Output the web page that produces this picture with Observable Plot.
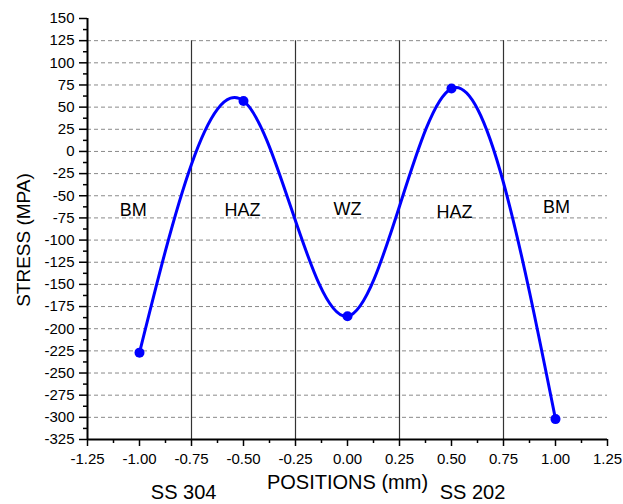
<!DOCTYPE html>
<html>
<head>
<meta charset="utf-8">
<script src="https://cdn.jsdelivr.net/npm/d3@7"></script>
<script src="https://cdn.jsdelivr.net/npm/@observablehq/plot@0.6"></script>
<style>
  html, body { margin: 0; padding: 0; background: #fff; }
</style>
</head>
<body>
<div id="chart"></div>
<script>
// ---- data ----
const positions = [-1.0, -0.5, 0.0, 0.5, 1.0];
const stress = [-227, 57, -186, 71, -302];

const zoneBoundaries = [-0.75, -0.25, 0.25, 0.75];
const zoneNames = ["BM", "HAZ", "WZ", "HAZ", "BM"];
const zoneX = [-1.03, -0.505, 0.0, 0.515, 1.005];
const zoneY = [-66, -66, -65, -69, -63];

const xTicks = [-1.25, -1.0, -0.75, -0.5, -0.25, 0, 0.25, 0.5, 0.75, 1.0, 1.25];
const xMinorTicks = [-1.125, -0.875, -0.625, -0.375, -0.125, 0.125, 0.375, 0.625, 0.875, 1.125];
const yTicks = [150, 125, 100, 75, 50, 25, 0, -25, -50, -75, -100, -125, -150, -175, -200, -225, -250, -275, -300, -325];
const yMinorTicks = [137.5, 112.5, 87.5, 62.5, 37.5, 12.5, -12.5, -37.5, -62.5, -87.5, -112.5, -137.5, -162.5, -187.5, -212.5, -237.5, -262.5, -287.5, -312.5];
const gridValues = [125, 100, 75, 50, 25, 0, -25, -50, -75, -100, -125, -150, -175, -200, -225, -250, -275, -300];

const materialLabels = ["SS 304", "SS 202"];
const materialX = [-0.788, 0.601];
const xTitle = "POSITIONS (mm)";
const yTitle = "STRESS (MPA)";

const points = positions.map((x, i) => ({x, y: stress[i]}));
const zones = zoneNames.map((name, i) => ({name, x: zoneX[i], y: zoneY[i]}));
const materials = materialLabels.map((name, i) => ({name, x: materialX[i]}));

const chart = Plot.plot({
  width: 623,
  height: 504,
  marginLeft: 87,
  marginRight: 16,
  marginTop: 18,
  marginBottom: 65,
  style: {fontFamily: "'Liberation Sans', Arial, sans-serif", fontSize: "15px", color: "black", background: "white"},
  x: {domain: [-1.25, 1.25]},
  y: {domain: [-325, 150]},
  marks: [
    Plot.ruleY(gridValues, {stroke: "#8a8a8a", strokeWidth: 1, strokeDasharray: "4,3"}),
    Plot.ruleX(zoneBoundaries, {y1: -325, y2: 125, stroke: "#333", strokeWidth: 1.2}),
    Plot.axisY(yTicks, {tickSize: 8, tickPadding: 5, tickFormat: d => String(d), label: null, strokeWidth: 1.5, fontSize: 15}),
    Plot.axisY(yMinorTicks, {tickSize: 4, tickFormat: () => "", label: null, strokeWidth: 1.5}),
    Plot.axisX(xTicks, {tickSize: 7, tickPadding: 7, tickFormat: d => d.toFixed(2), label: null, strokeWidth: 1.5, fontSize: 15}),
    Plot.axisX(xMinorTicks, {tickSize: 4, tickFormat: () => "", label: null, strokeWidth: 1.5}),
    Plot.ruleX([-1.25], {y1: -325, y2: 150, stroke: "black", strokeWidth: 2}),
    Plot.ruleY([-325], {x1: -1.25, x2: 1.25, stroke: "black", strokeWidth: 2}),
    Plot.line(points, {x: "x", y: "y", curve: "natural", stroke: "#0000ff", strokeWidth: 3}),
    Plot.dot(points, {x: "x", y: "y", r: 5, fill: "#0000ff", stroke: "none"}),
    Plot.text(zones, {x: "x", y: "y", text: "name", fontSize: 18, fill: "black"}),
    Plot.text(materials, {x: "x", frameAnchor: "bottom", lineAnchor: "middle", dy: 53, text: "name", fontSize: 20, fill: "black"}),
    Plot.text([xTitle], {frameAnchor: "bottom", lineAnchor: "middle", textAnchor: "middle", dy: 43, fontSize: 20, fill: "black"}),
    Plot.text([yTitle], {frameAnchor: "left", textAnchor: "middle", lineAnchor: "middle", dx: -64, dy: 11, rotate: -90, fontSize: 19, fill: "black"})
  ]
});
document.getElementById("chart").appendChild(chart);
</script>
</body>
</html>
